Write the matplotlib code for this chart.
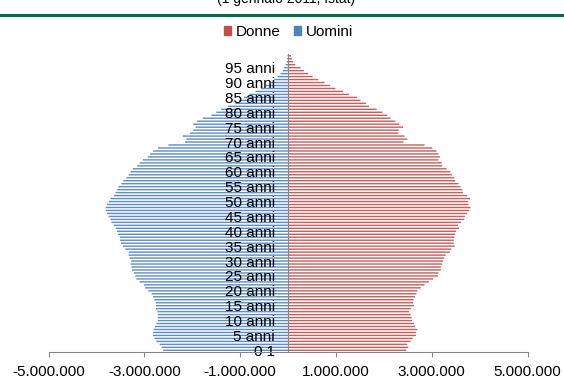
import numpy as np
import matplotlib
matplotlib.use("Agg")
import matplotlib.pyplot as plt
from matplotlib.patches import Patch
from matplotlib.lines import Line2D
from matplotlib.ticker import FuncFormatter

plt.rcParams['font.family'] = ['Liberation Sans', 'DejaVu Sans']

# single-year ages 0..99, values in millions
ages = np.arange(100)

donne = [2.47, 2.51, 2.49, 2.56, 2.60, 2.67, 2.67, 2.70, 2.65, 2.63,
         2.59, 2.58, 2.56, 2.53, 2.57, 2.63, 2.61, 2.62, 2.65, 2.68,
         2.70, 2.77, 2.85, 2.94, 3.03, 3.13, 3.14, 3.19, 3.19, 3.22,
         3.24, 3.26, 3.29, 3.38, 3.41, 3.48, 3.46, 3.46, 3.47, 3.49,
         3.51, 3.57, 3.55, 3.61, 3.68, 3.69, 3.74, 3.78, 3.81, 3.77,
         3.76, 3.80, 3.74, 3.65, 3.64, 3.60, 3.56, 3.49, 3.47, 3.42,
         3.39, 3.31, 3.22, 3.21, 3.14, 3.17, 3.14, 3.10, 3.01, 2.85,
         2.41, 2.49, 2.43, 2.30, 2.31, 2.40, 2.32, 2.24, 2.14, 2.07,
         1.97, 1.85, 1.69, 1.63, 1.51, 1.44, 1.27, 1.15, 0.99, 0.88,
         0.76, 0.63, 0.51, 0.42, 0.33, 0.26, 0.15, 0.10, 0.08, 0.06]

uomini = [2.61, 2.64, 2.68, 2.75, 2.79, 2.82, 2.82, 2.81, 2.78, 2.75,
          2.72, 2.72, 2.72, 2.73, 2.76, 2.76, 2.76, 2.79, 2.82, 2.85,
          2.92, 2.99, 3.01, 3.10, 3.17, 3.19, 3.22, 3.26, 3.27, 3.29,
          3.28, 3.31, 3.33, 3.33, 3.40, 3.45, 3.49, 3.51, 3.51, 3.55,
          3.57, 3.60, 3.64, 3.69, 3.71, 3.75, 3.78, 3.81, 3.81, 3.78,
          3.74, 3.71, 3.64, 3.60, 3.57, 3.54, 3.48, 3.44, 3.38, 3.33,
          3.29, 3.24, 3.15, 3.10, 3.03, 2.93, 2.88, 2.82, 2.72, 2.50,
          2.15, 2.12, 2.20, 2.05, 1.98, 1.93, 1.98, 1.90, 1.78, 1.60,
          1.50, 1.40, 1.25, 1.10, 1.02, 0.92, 0.80, 0.68, 0.57, 0.47,
          0.37, 0.29, 0.22, 0.16, 0.11, 0.08, 0.05, 0.03, 0.02, 0.01]

label_ages = list(range(0, 100, 5))
label_text = ["0-1"] + ["%d anni" % a for a in label_ages[1:]]

col_donne = "#C0504D"
col_uomini = "#4F81BD"
grey = "#868686"

fig = plt.figure(figsize=(5.64, 3.80), dpi=100)
ax = fig.add_axes([0.0863, 0.0742, 0.849, 0.783])

ax.barh(ages, np.array(donne) * 1e6, height=0.48, color=col_donne, linewidth=0,
        snap=False, alpha=0.9)
ax.barh(ages, -np.array(uomini) * 1e6, height=0.48, color=col_uomini, linewidth=0,
        snap=False, alpha=0.9)

ax.set_xlim(-5e6, 5e6)
ax.set_ylim(-0.5, 99.5)
ax.set_xticks([-5e6, -3e6, -1e6, 1e6, 3e6, 5e6])
ax.xaxis.set_major_formatter(FuncFormatter(lambda v, p: "{:,}".format(int(round(v))).replace(",", ".")))
ax.set_yticks(label_ages)
ax.set_yticklabels(label_text)

for s in ["top", "right"]:
    ax.spines[s].set_visible(False)
ax.spines["left"].set_position(("data", 0))
for s in ["left", "bottom"]:
    ax.spines[s].set_color(grey)
    ax.spines[s].set_linewidth(0.75)
    ax.spines[s].set_zorder(2)

ax.tick_params(axis="x", direction="out", length=3.6, width=0.75, color=grey,
               pad=6.0, labelsize=11, labelcolor="black")
ax.tick_params(axis="y", length=0, pad=9.5, labelsize=11, labelcolor="black")

# header: subtitle (only its lower edge fits), rule and legend
fig.text(286 / 564, 1 - 3 / 380, "(1 gennaio 2011, Istat)", ha="center",
         va="baseline", fontsize=10)
fig.add_artist(Line2D([0, 1], [1 - 14.5 / 380] * 2, transform=fig.transFigure,
                      color="#006A4E", linewidth=2.2))

handles = [Patch(color=col_donne, label="Donne"), Patch(color=col_uomini, label="Uomini")]
fig.legend(handles=handles, loc="center", bbox_to_anchor=(288.5 / 564, 1 - 32 / 380),
           ncol=2, frameon=False, fontsize=11, handlelength=0.46, handleheight=0.46,
           handletextpad=0.33, columnspacing=0.85, borderpad=0, borderaxespad=0)

fig.savefig("out.png", dpi=100)
